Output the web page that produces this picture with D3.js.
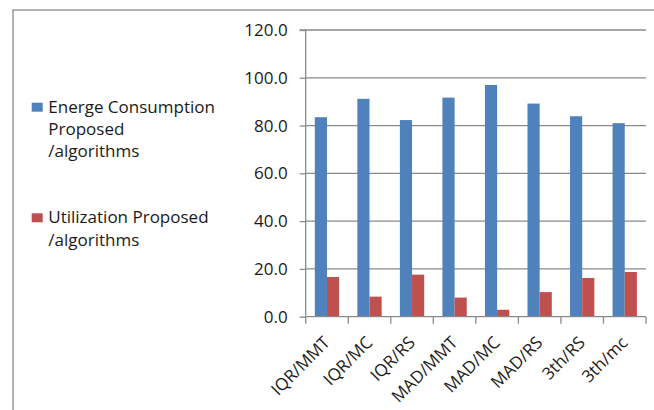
<!DOCTYPE html>
<html><head><meta charset="utf-8">
<script src="https://cdn.jsdelivr.net/npm/d3@7"></script>
<style>body{margin:0;background:#fff}svg{display:block}text{font-family:"Open Sans",sans-serif;fill:#1a1a1a}</style>
</head><body><svg id="c" width="654" height="410"></svg>
<script>
const categories = ["IQR/MMT","IQR/MC","IQR/RS","MAD/MMT","MAD/MC","MAD/RS","3th/RS","3th/mc"];
const energy = [83.5, 91.2, 82.3, 91.7, 97.0, 89.2, 83.9, 81.0];
const utilization = [16.6, 8.4, 17.6, 8.0, 2.9, 10.3, 16.2, 18.7];
const seriesNames = ["Energe Consumption Proposed /algorithms", "Utilization Proposed /algorithms"];
const legendLines = [["Energe Consumption","Proposed","/algorithms"],["Utilization Proposed","/algorithms"]];
const colors = ["#4F81BD","#C0504D"];
const yTicks = [0,20,40,60,80,100,120];

const svg = d3.select("#c");
const X0 = 305.7, X1 = 646, Y0 = 316.7, Y1 = 30;
const grid = "#8a8a8a";
const FS = "17px";

svg.append("rect").attr("x",13).attr("y",10).attr("width",700).attr("height",450)
  .attr("fill","none").attr("stroke",grid).attr("stroke-width",1.3);

const y = d3.scaleLinear().domain([0,120]).range([Y0,Y1]);
const x = d3.scaleBand().domain(categories).range([X0,X1]).padding(0);
const xs = d3.scaleBand().domain([0,1]).range([0,x.bandwidth()]).paddingInner(0).paddingOuter(0.75);

// gridlines
svg.append("g").selectAll("line").data(yTicks.filter(d=>d>0)).join("line")
  .attr("x1",X0).attr("x2",X1).attr("y1",d=>y(d)).attr("y2",d=>y(d))
  .attr("stroke",grid).attr("stroke-width",1.3);

// bars
const data = categories.map((c,i)=>({c, v:[energy[i], utilization[i]]}));
const g = svg.append("g").selectAll("g").data(data).join("g").attr("transform",d=>`translate(${x(d.c)},0)`);
g.selectAll("rect").data(d=>d.v.map((v,k)=>({v,k}))).join("rect")
  .attr("x",d=>xs(d.k)).attr("width",xs.bandwidth())
  .attr("y",d=>y(d.v)).attr("height",d=>Y0-y(d.v))
  .attr("fill",d=>colors[d.k]);

// y axis
const yAxis = d3.axisLeft(y).tickValues(yTicks).tickFormat(d3.format(".1f")).tickSize(6).tickPadding(12);
const ya = svg.append("g").attr("transform",`translate(${X0},0)`).call(yAxis);
ya.select(".domain").attr("stroke",grid).attr("stroke-width",1.3).attr("d",`M-6,${Y1}H0V${Y0}`);
ya.selectAll(".tick line").attr("stroke",grid).attr("stroke-width",1.3);
ya.selectAll(".tick text").style("font-size",FS).attr("font-family",null).attr("fill","#1a1a1a");

// x axis
svg.append("line").attr("x1",X0).attr("x2",X1).attr("y1",Y0).attr("y2",Y0).attr("stroke",grid).attr("stroke-width",1.3);
const bounds = categories.map(c=>x(c)).concat([X1]);
svg.append("g").selectAll("line").data(bounds).join("line")
  .attr("x1",d=>d).attr("x2",d=>d).attr("y1",Y0).attr("y2",Y0+7)
  .attr("stroke",grid).attr("stroke-width",1.3);
svg.append("g").selectAll("text").data(categories).join("text")
  .attr("transform",d=>`translate(${x(d)+x.bandwidth()/2+4},${Y0+27}) rotate(-45)`)
  .attr("text-anchor","end").style("font-size",FS).text(d=>d);

// legend
const lg = svg.append("g");
const legendY = [102.7, 213.3];
legendLines.forEach((lines,k)=>{
  lg.append("rect").attr("x",31.7).attr("y",legendY[k]).attr("width",11).attr("height",9).attr("fill",colors[k]);
  lines.forEach((t,j)=>{
    lg.append("text").attr("x",48.3).attr("y",legendY[k]+10+j*22.2).style("font-size",FS).text(t);
  });
});
</script></body></html>
